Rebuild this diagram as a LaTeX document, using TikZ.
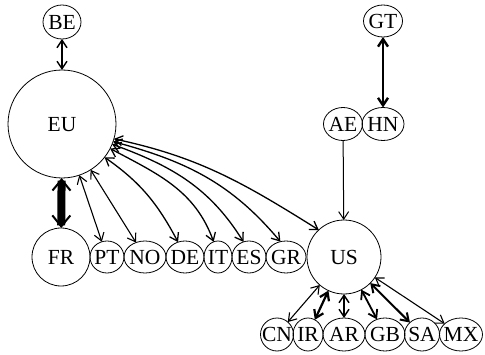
\documentclass[tikz,border=0pt]{standalone}
\usepackage{fontspec}
\setmainfont{Liberation Serif}
\usetikzlibrary{arrows.meta,shapes.geometric}
\newcommand{\lbl}[1]{\makebox[0pt]{\raisebox{-.33em}[0pt][0pt]{#1}}}
\begin{document}
\begin{tikzpicture}[x=1pt,y=1pt,
  every node/.style={draw,line width=0.8pt,inner sep=0pt,outer sep=0pt,font=\fontsize{21.5}{22}\selectfont},
  ell/.style={ellipse},
  circ/.style={circle},
  edge/.style={line width=1.1pt,{Straight Barb[length=7.5pt,width=10pt]}-{Straight Barb[length=7.5pt,width=10pt]}},
  oneway/.style={line width=1pt,-{Straight Barb[length=7.5pt,width=10pt]}}]
\useasboundingbox (0,0) rectangle (485,354);
\node[ell,minimum width=38pt,minimum height=34pt] (BE) at (62,332) {\lbl{BE}};
\node[circ,minimum size=108pt] (EU) at (62,230) {\lbl{EU}};
\node[ell,minimum width=39pt,minimum height=32pt] (GT) at (383,333) {\lbl{GT}};
\node[ell,minimum width=39pt,minimum height=33pt] (AE) at (343,230) {\lbl{AE}};
\node[ell,minimum width=42pt,minimum height=33pt] (HN) at (383,230) {\lbl{HN}};
\node[circ,minimum size=58pt] (FR) at (61,97) {\lbl{FR}};
\node[ell,minimum width=34pt,minimum height=32pt] (PT) at (107,97) {\lbl{PT}};
\node[ell,minimum width=42pt,minimum height=32pt] (NO) at (145,97) {\lbl{NO}};
\node[ell,minimum width=38pt,minimum height=32pt] (DE) at (185,97) {\lbl{DE}};
\node[ell,minimum width=28pt,minimum height=32pt] (IT) at (218,97) {\lbl{IT}};
\node[ell,minimum width=34pt,minimum height=32pt] (ES) at (249,97) {\lbl{ES}};
\node[ell,minimum width=40pt,minimum height=32pt] (GR) at (286,97) {\lbl{GR}};
\node[circ,minimum size=74pt] (US) at (344,97) {\lbl{US}};
\node[ell,minimum width=33pt,minimum height=33pt] (CN) at (277,19.5) {\lbl{CN}};
\node[ell,minimum width=30pt,minimum height=33pt] (IR) at (308,19.5) {\lbl{IR}};
\node[ell,minimum width=42pt,minimum height=33pt] (AR) at (344,19.5) {\lbl{AR}};
\node[ell,minimum width=40pt,minimum height=33pt] (GB) at (385,19.5) {\lbl{GB}};
\node[ell,minimum width=35pt,minimum height=33pt] (SA) at (422,19.5) {\lbl{SA}};
\node[ell,minimum width=43pt,minimum height=33pt] (MX) at (461,19.5) {\lbl{MX}};
% edges
\draw[edge,line width=1.4pt] (BE) -- (EU);
\draw[line width=8pt,{Straight Barb[length=11pt,width=18pt,line width=2pt]}-{Straight Barb[length=11pt,width=18pt,line width=2pt]}] (EU) -- (FR);
\draw[edge,line width=2.4pt] (GT) -- (HN);
\draw[oneway] (AE) -- (US);
\draw[edge] (EU) -- (PT);
\draw[edge] (EU) -- (NO);
\draw[edge,line width=1.3pt] (EU.-38) to[out=-35,in=118] (DE.115);
\draw[edge,line width=1.3pt] (EU.-27.5) to[out=-28,in=110] (IT.106);
\draw[edge,line width=1.3pt] (EU.-22.5) to[out=-20,in=122] (ES.110);
\draw[edge,line width=1.3pt] (EU.-19) to[out=-15,in=130] (GR.110);
\draw[edge,line width=1.3pt] (EU.-16) to[out=-12,in=148] (US.133);
\draw[edge] (US) -- (CN);
\draw[edge,line width=2.2pt] (US) -- (IR);
\draw[edge,line width=1.4pt] (US) -- (AR);
\draw[edge,line width=1.8pt] (US) -- (GB);
\draw[edge,line width=2pt] (US) -- (SA);
\draw[edge] (US) -- (MX);
\end{tikzpicture}
\end{document}
